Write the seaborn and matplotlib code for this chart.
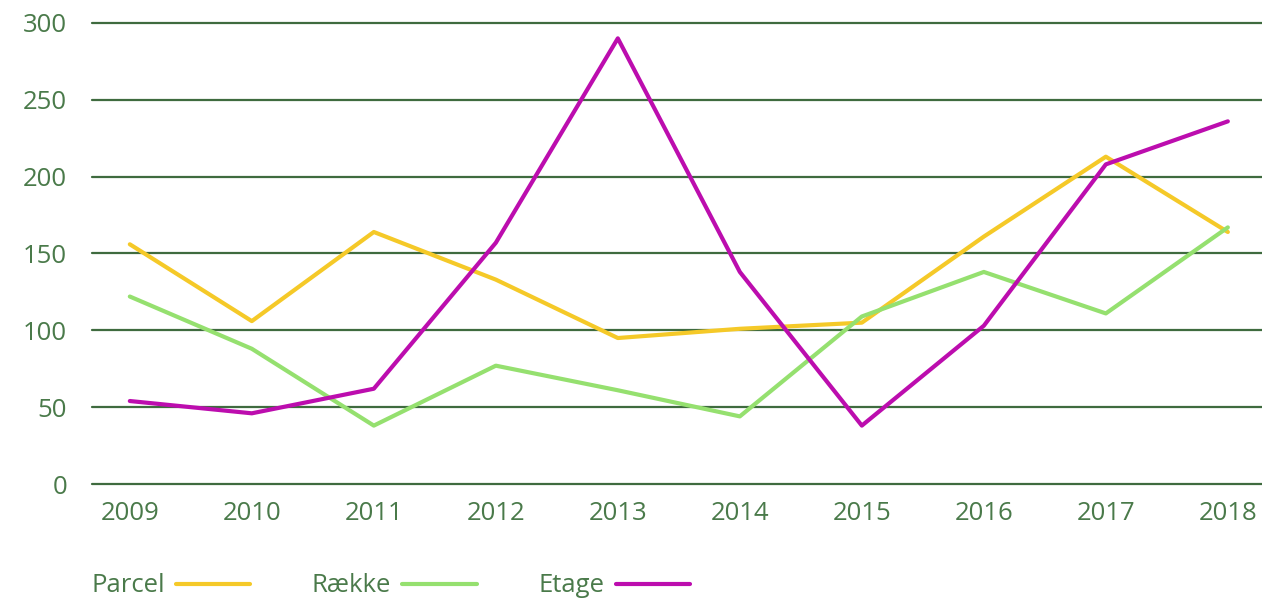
import matplotlib
matplotlib.use("Agg")
import matplotlib.pyplot as plt
import seaborn as sns
import pandas as pd
from matplotlib.lines import Line2D

years = [2009, 2010, 2011, 2012, 2013, 2014, 2015, 2016, 2017, 2018]
parcel = [156, 106, 164, 133, 95, 101, 105, 161, 213, 164]
raekke = [122, 88, 38, 77, 61, 44, 109, 138, 111, 167]
etage = [54, 46, 62, 157, 290, 138, 38, 103, 208, 236]
series_names = ["Parcel", "Række", "Etage"]
colors = ["#F5C928", "#95E06F", "#BC0DAE"]
yticks = [0, 50, 100, 150, 200, 250, 300]

txt = "#4A7A4A"
grid = "#3F6B3F"

sns.set_theme(style="white")
plt.rcParams['font.family'] = ['Open Sans', 'DejaVu Sans']

df = pd.DataFrame({
    "year": years * 3,
    "value": parcel + raekke + etage,
    "series": [series_names[0]] * 10 + [series_names[1]] * 10 + [series_names[2]] * 10,
})

fig = plt.figure(figsize=(12.62, 5.99), dpi=100)
ax = fig.add_axes([92 / 1262, 1 - 484 / 599, 1 - 92 / 1262, (484 - 23) / 599])

for y in yticks:
    ax.axhline(y, color=grid, lw=1.6, zorder=0)

sns.lineplot(data=df, x="year", y="value", hue="series", palette=dict(zip(series_names, colors)),
             linewidth=3.0, ax=ax, legend=False, sort=False, zorder=3)

ax.set_ylim(0, 300)
ax.set_xlim(2009 - 0.31, 2018 + 0.28)
ax.set_yticks(yticks)
ax.set_xticks(years)
ax.set_xticklabels([str(y) for y in years])
ax.set_xlabel("")
ax.set_ylabel("")
for s in ax.spines.values():
    s.set_visible(False)
ax.tick_params(axis="both", length=0, labelsize=18.5, colors=txt)
ax.tick_params(axis="y", pad=18)
ax.tick_params(axis="x", pad=12)
for l in ax.lines:
    l.set_clip_on(False)

handles = [Line2D([0], [0], color=c, lw=3.0) for c in colors]
leg = fig.legend(handles, series_names, loc="center left", bbox_to_anchor=(91 / 1262, 1 - 586 / 599),
                 ncol=3, frameon=False, markerfirst=False, handlelength=2.9, handletextpad=0.43,
                 columnspacing=2.4, fontsize=18.5, borderpad=0, borderaxespad=0)
for t in leg.get_texts():
    t.set_color(txt)

fig.savefig("out.png", dpi=100)
